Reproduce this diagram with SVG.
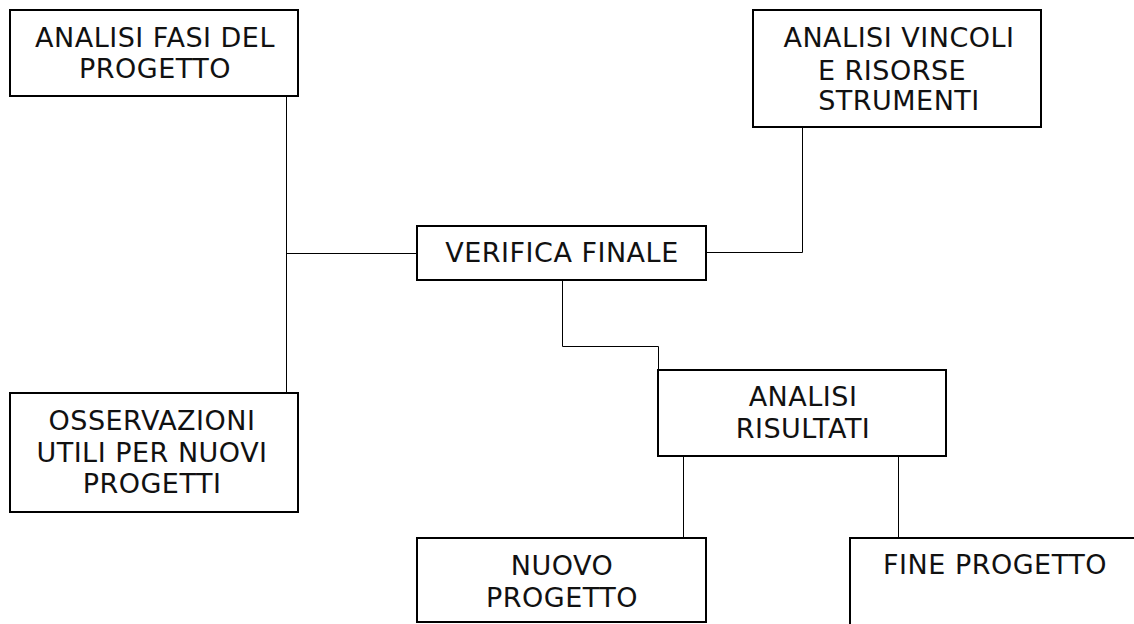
<svg xmlns="http://www.w3.org/2000/svg" width="1134" height="624" viewBox="0 0 1134 624">
<style>
.box{fill:#fff;stroke:#000;stroke-width:2}
.lbl{font-family:"DejaVu Sans",Verdana,sans-serif;font-size:27px;letter-spacing:0.5px;fill:#111;text-anchor:middle}
.con{fill:none;stroke:#000;stroke-width:1}
</style>
<rect width="1134" height="624" fill="#fff"/>
<g id="connectors">
<path class="con" d="M286.5 96V393M286.5 253.5H417"/>
<path class="con" d="M706 252.5H802.5V127"/>
<path class="con" d="M562.5 280V346.5H658.5V370"/>
<path class="con" d="M683.5 456V538"/>
<path class="con" d="M898.5 456V538"/>
</g>
<g id="n1">
<rect class="box" x="10" y="10" width="288" height="86"/>
<text class="lbl" x="155" y="47">ANALISI FASI DEL</text>
<text class="lbl" x="155" y="78">PROGETTO</text>
</g>
<g id="n2">
<rect class="box" x="753" y="10" width="288" height="117"/>
<text class="lbl" x="899" y="47">ANALISI VINCOLI</text>
<text class="lbl" x="892" y="80">E RISORSE</text>
<text class="lbl" x="899" y="110">STRUMENTI</text>
</g>
<g id="n3">
<rect class="box" x="417" y="226" width="289" height="54"/>
<text class="lbl" x="562" y="262">VERIFICA FINALE</text>
</g>
<g id="n4">
<rect class="box" x="10" y="393" width="288" height="119"/>
<text class="lbl" x="152" y="430">OSSERVAZIONI</text>
<text class="lbl" x="152" y="462">UTILI PER NUOVI</text>
<text class="lbl" x="152" y="493">PROGETTI</text>
</g>
<g id="n5">
<rect class="box" x="658" y="370" width="288" height="86"/>
<text class="lbl" x="803" y="406">ANALISI</text>
<text class="lbl" x="803" y="438">RISULTATI</text>
</g>
<g id="n6">
<rect class="box" x="417" y="538" width="289" height="84"/>
<text class="lbl" x="562" y="575">NUOVO</text>
<text class="lbl" x="562" y="607">PROGETTO</text>
</g>
<g id="n7">
<rect class="box" x="850" y="538" width="300" height="100"/>
<text class="lbl" x="995" y="574">FINE PROGETTO</text>
</g>
</svg>
